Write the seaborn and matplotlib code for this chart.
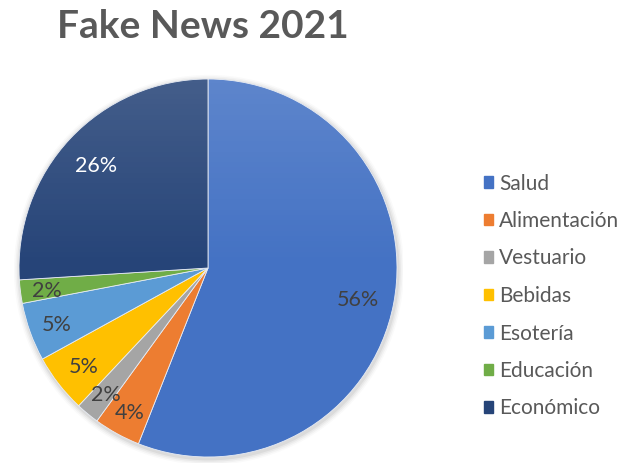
import numpy as np
import matplotlib
matplotlib.use("Agg")
import matplotlib.pyplot as plt
from matplotlib.patches import Circle
import seaborn as sns

# Data
categories = ["Salud", "Alimentación", "Vestuario", "Bebidas", "Esotería", "Educación", "Económico"]
shares = [56, 4, 2, 5, 5, 2, 26]
colors = ["#4472C4", "#ED7D31", "#A5A5A5", "#FFC000", "#5B9BD5", "#70AD47", "#264478"]
label_colors = ["#404040", "#404040", "#404040", "#404040", "#404040", "#404040", "#FFFFFF"]
label_dist = [0.81, 0.86, 0.85, 0.83, 0.85, 0.86, 0.81]

sns.set_theme(style="white")
plt.rcParams["font.family"] = ["Lato", "DejaVu Sans"]

W, H, DPI = 633, 463, 100
fig = plt.figure(figsize=(W / DPI, H / DPI), dpi=DPI)
fig.patch.set_facecolor("white")

# Pie axes: centre (208, 268) px, radius 189 px
cx, cy, r = 208, 268, 189
ax = fig.add_axes([(cx - r - 6) / W, (H - cy - r - 6) / H, (2 * r + 12) / W, (2 * r + 12) / H])
lim = 1 + 6 / r
ax.set_xlim(-lim, lim)
ax.set_ylim(-lim, lim)
ax.set_aspect("equal")
ax.axis("off")

# soft shadow around the pie
for k, a in enumerate([0.05, 0.04, 0.03, 0.02]):
    ax.add_patch(Circle((0.005, -0.01), 1 + 0.008 * (k + 1), color="black", alpha=a, lw=0, zorder=0))

wedges, _ = ax.pie(
    shares,
    colors=colors,
    startangle=90,
    counterclock=False,
    radius=1,
    wedgeprops=dict(edgecolor="#E8ECF4", linewidth=0.6, zorder=1),
)

# percentage labels at each wedge's mid-angle
cum = np.cumsum([0] + shares[:-1])
total = sum(shares)
for s, c0, col, d in zip(shares, cum, label_colors, label_dist):
    mid = np.deg2rad(90 - 360 * (c0 + s / 2) / total)
    ax.text(d * np.cos(mid), d * np.sin(mid) - 0.015, f"{s}%", ha="center", va="center",
            color=col, fontsize=15.5, zorder=5)

# subtle light gradient over the upper part of the pie
grad = np.linspace(0.14, 0.0, 256).reshape(-1, 1)
rgba = np.ones((256, 1, 4))
rgba[..., 3] = grad
im = ax.imshow(rgba, extent=(-1, 1, 0.0, 1), origin="upper", aspect="auto", zorder=2)
im.set_clip_path(Circle((0, 0), 1, transform=ax.transData))
ax.set_xlim(-lim, lim)
ax.set_ylim(-lim, lim)

# title
fig.text(203 / W, 1 - 26 / H, "Fake News 2021", ha="center", va="center",
         fontsize=28, fontweight="bold", color="#595959")

# legend
handles = [plt.Rectangle((0, 0), 1, 1, color=c) for c in colors]
leg = fig.legend(handles, categories, loc="center left", bbox_to_anchor=(465 / W, 1 - 296 / H),
                 frameon=False, fontsize=15, labelspacing=0.84, handlelength=0.45,
                 handleheight=0.45, handletextpad=0.3, labelcolor="#595959")

fig.savefig("out.png", dpi=DPI, facecolor="white")
